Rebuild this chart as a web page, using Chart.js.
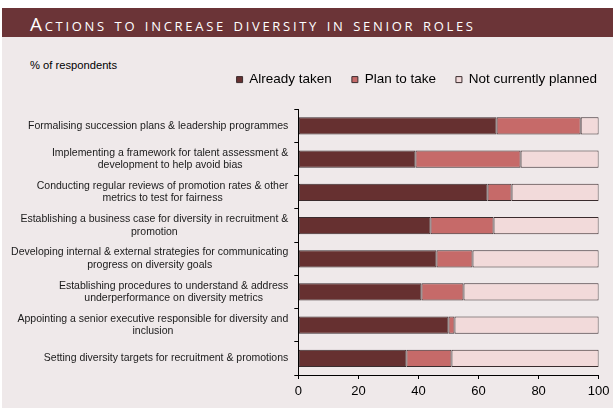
<!DOCTYPE html>
<html>
<head>
<meta charset="utf-8">
<script src="https://cdn.jsdelivr.net/npm/chart.js@4.4.1/dist/chart.umd.min.js"></script>
<style>
  html, body { margin: 0; padding: 0; background: #fff; }
  body { width: 613px; height: 408px; position: relative; overflow: hidden; font-family: "Liberation Sans", Arial, sans-serif; }
  .header { position: absolute; left: 2px; top: 8px; right: 0; height: 29px; background: #6b3437; }
  .header span { position: absolute; left: 28px; top: 1.5px; line-height: 29px; color: #fff; font-family: "Open Sans", sans-serif; font-size: 19px; font-variant: small-caps; letter-spacing: 2.7px; white-space: nowrap; }
  .panel { position: absolute; left: 2px; top: 37px; right: 0; bottom: 0; background: #efe9ea; }
  .unit { position: absolute; left: 30px; top: 58px; font-size: 11.2px; line-height: 14px; color: #000; }
  .wrap { position: absolute; left: 0; top: 37px; width: 613px; height: 371px; }
</style>
</head>
<body>
<div class="header"><span>Actions to increase diversity in senior roles</span></div>
<div class="panel"></div>
<div class="unit">% of respondents</div>
<div class="wrap"><canvas id="diversityChart"></canvas></div>
<script>
// actions, one entry per bar (lines as they wrap)
const actions = [
  ['Formalising succession plans & leadership programmes'],
  ['Implementing a framework for talent assessment &', 'development to help avoid bias'],
  ['Conducting regular reviews of promotion rates & other', 'metrics to test for fairness'],
  ['Establishing a business case for diversity in recruitment &', 'promotion'],
  ['Developing internal & external strategies for communicating', 'progress on diversity goals'],
  ['Establishing procedures to understand & address', 'underperformance on diversity metrics'],
  ['Appointing a senior executive responsible for diversity and', 'inclusion'],
  ['Setting diversity targets for recruitment & promotions']
];

// % of respondents
const alreadyTaken = [66, 39, 63, 44, 46, 41, 50, 36];
const planToTake = [28, 35, 8, 21, 12, 14, 2, 15];
const notPlanned = [6, 26, 29, 35, 42, 45, 48, 49];

const xTicks = [0, 20, 40, 60, 80, 100];

Chart.defaults.font.family = '"Liberation Sans", Arial, sans-serif';
Chart.defaults.color = '#000';

// long category names: right-aligned block, lines centred inside it
const actionLabels = {
  id: 'actionLabels',
  afterDraw(chart) {
    const ctx = chart.ctx;
    const yScale = chart.scales.y;
    const right = chart.chartArea.left - 10;
    ctx.save();
    ctx.font = '10.5px "Liberation Sans", Arial, sans-serif';
    ctx.fillStyle = '#1a1a1a';
    ctx.textAlign = 'center';
    ctx.textBaseline = 'middle';
    actions.forEach((lines, i) => {
      const y = yScale.getPixelForValue(i);
      const w = Math.max(...lines.map(l => ctx.measureText(l).width));
      const cx = right - w / 2;
      const lh = 12.4;
      lines.forEach((l, j) => {
        ctx.fillText(l, cx, y + (j - (lines.length - 1) / 2) * lh);
      });
    });
    ctx.restore();
  }
};

// extra room between the legend and the bars
const legendGap = {
  id: 'legendGap',
  beforeInit(chart) {
    const fit = chart.legend.fit;
    chart.legend.fit = function () {
      fit.bind(chart.legend)();
      this.height += 13;
    };
  }
};

var ctx = document.getElementById('diversityChart');
var diversityChart = new Chart(ctx, {
  type: 'bar',
  data: {
    labels: actions,
    datasets: [
      {
        label: 'Already taken',
        data: alreadyTaken,
        backgroundColor: '#663030',
        borderColor: '#3a2c2e',
        borderWidth: 1,
        borderSkipped: false
      },
      {
        label: 'Plan to take',
        data: planToTake,
        backgroundColor: '#c66a69',
        borderColor: '#3a2c2e',
        borderWidth: 1,
        borderSkipped: false
      },
      {
        label: 'Not currently planned',
        data: notPlanned,
        backgroundColor: '#f2dada',
        borderColor: '#3a2c2e',
        borderWidth: 1,
        borderSkipped: false
      }
    ]
  },
  options: {
    indexAxis: 'y',
    responsive: true,
    maintainAspectRatio: false,
    animation: false,
    barPercentage: 0.52,
    categoryPercentage: 1,
    layout: {
      padding: { top: 15.85, right: -4, bottom: 3.4, left: 0 }
    },
    scales: {
      x: {
        stacked: true,
        min: 0,
        max: 100,
        afterBuildTicks: (scale) => {
          scale.ticks = xTicks.map(v => ({ value: v }));
        },
        afterFit: (scale) => {
          scale.paddingRight = 14.3;
        },
        ticks: {
          font: { size: 13 },
          color: '#000',
          padding: 5
        },
        grid: {
          drawOnChartArea: false,
          tickLength: 4,
          color: '#000'
        },
        border: { color: '#000', width: 1 }
      },
      y: {
        stacked: true,
        afterFit: (scale) => {
          scale.width = 298.3;
        },
        ticks: { display: false },
        grid: {
          drawOnChartArea: false,
          tickLength: 4,
          color: '#000'
        },
        border: { color: '#000', width: 1 }
      }
    },
    plugins: {
      legend: {
        position: 'top',
        align: 'end',
        labels: {
          boxWidth: 6,
          boxHeight: 6,
          padding: 20,
          color: '#000',
          font: { size: 13.5 }
        }
      },
      tooltip: { enabled: false }
    }
  },
  plugins: [legendGap, actionLabels]
});
</script>
</body>
</html>
